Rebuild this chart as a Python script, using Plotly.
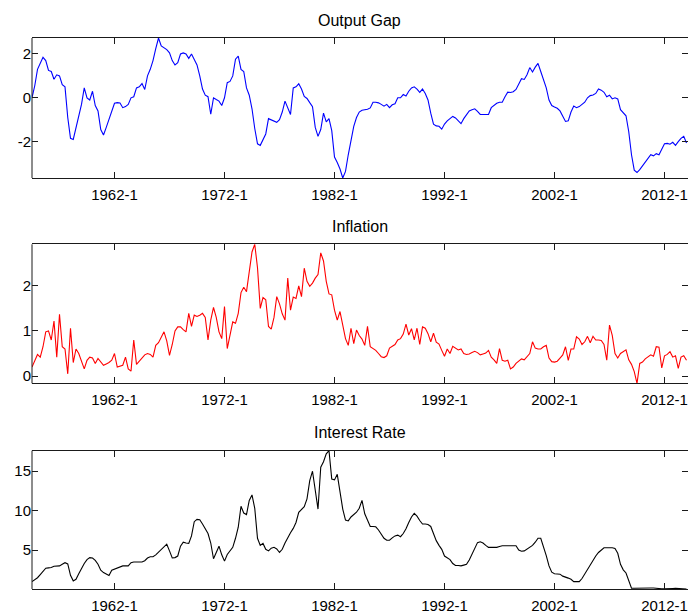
import plotly.graph_objects as go

# Quarterly sample: 1954Q3 .. 2014Q1
START_YEAR, START_Q, N_QUARTERS = 1954, 3, 239
tick_years = [1962, 1972, 1982, 1992, 2002, 2012]
tick_labels = [f"{y}-1" for y in tick_years]

output_gap = [
    0.0, 0.55, 1.3, 1.6, 1.85, 1.7, 1.25, 1.2, 0.85, 1.05,
    1.0, 0.6, 0.5, -0.9, -1.85, -1.9, -1.35, -0.75, -0.3, 0.45,
    0.0, -0.1, 0.3, -0.35, -0.6, -1.45, -1.7, -1.35, -1.0, -0.55,
    -0.25, -0.22, -0.24, -0.45, -0.4, -0.3, 0.0, 0.05, 0.45, 0.5,
    0.65, 0.38, 1.0, 1.3, 1.7, 2.25, 2.73, 2.37, 2.3, 2.2,
    2.05, 1.7, 1.5, 1.6, 2.0, 2.05, 2.0, 1.8, 2.0, 1.78,
    1.5, 1.0, 0.4, 0.12, 0.05, -0.75, 0.0, -0.08, -0.15, -0.35,
    0.0, 0.69, 0.75, 1.0, 1.76, 1.9, 1.3, 1.2, 0.45, 0.12,
    -0.5, -1.4, -2.1, -2.17, -1.9, -1.65, -0.95, -1.0, -1.08, -1.12,
    -1.0, -0.65, -0.15, -0.45, -0.76, 0.45, 0.5, 0.64, 0.4, 0.06,
    -0.03, -0.22, -0.4, -1.35, -1.76, -1.45, -0.7, -1.1, -0.95, -1.5,
    -2.7, -2.95, -3.25, -3.66, -3.36, -2.6, -1.95, -1.3, -0.9, -0.65,
    -0.57, -0.55, -0.52, -0.46, -0.2, -0.2, -0.23, -0.3, -0.38, -0.3,
    -0.45, -0.32, -0.27, 0.0, 0.0, 0.15, 0.08, 0.3, 0.45, 0.5,
    0.4, 0.25, 0.4, 0.2, -0.1, -0.7, -1.2, -1.28, -1.3, -1.43,
    -1.2, -1.05, -0.95, -0.85, -0.92, -1.05, -1.18, -0.95, -0.8, -0.6,
    -0.55, -0.5, -0.62, -0.76, -0.76, -0.75, -0.76, -0.45, -0.35, -0.25,
    -0.2, -0.2, 0.05, 0.26, 0.24, 0.28, 0.38, 0.62, 0.87, 0.84,
    1.05, 1.38, 1.18, 1.4, 1.57, 1.2, 0.8, 0.45, -0.1, -0.35,
    -0.42, -0.48, -0.6, -0.85, -1.08, -1.05, -0.65, -0.38, -0.45, -0.4,
    -0.3, -0.2, 0.0, 0.1, 0.13, 0.2, 0.4, 0.35, 0.25, 0.05,
    0.12, -0.05, 0.0, -0.05, -0.54, -0.67, -0.82, -1.55, -2.6, -3.3,
    -3.41, -3.28, -3.1, -2.98, -2.8, -2.6, -2.65, -2.55, -2.6, -2.32,
    -2.1, -2.08, -2.12, -2.03, -2.17, -2.0, -1.85, -1.76, -2.06,
]

inflation = [
    0.2, 0.35, 0.48, 0.42, 0.65, 0.98, 1.0, 0.8, 1.22, 0.42,
    1.37, 0.65, 0.6, 0.05, 1.06, 0.3, 0.6, 0.5, 0.35, 0.16,
    0.35, 0.42, 0.4, 0.28, 0.39, 0.31, 0.24, 0.27, 0.3, 0.35,
    0.5, 0.2, 0.22, 0.24, 0.42, 0.16, 0.11, 0.8, 0.26, 0.33,
    0.42, 0.47, 0.5, 0.48, 0.42, 0.68, 0.74, 0.86, 0.98, 0.78,
    0.46, 0.7, 1.0, 1.09, 1.09, 1.03, 0.98, 1.39, 1.1, 1.35,
    1.32, 1.35, 1.39, 1.3, 0.8, 1.24, 1.52, 1.3, 0.98, 0.83,
    1.54, 0.61, 0.9, 1.2, 1.17, 1.39, 1.85, 1.97, 1.87, 2.35,
    2.75, 2.92, 2.4, 1.5, 1.74, 1.69, 1.1, 1.04, 1.3, 1.76,
    1.6, 1.38, 1.24, 2.17, 1.46, 1.75, 1.72, 2.0, 1.76, 2.39,
    2.1, 1.99, 2.06, 2.17, 2.25, 2.73, 2.55, 2.1, 1.82, 1.8,
    1.46, 1.24, 1.43, 1.13, 0.83, 0.68, 1.06, 0.72, 1.02, 0.9,
    0.82, 0.68, 1.1, 0.65, 0.61, 0.57, 0.5, 0.43, 0.41, 0.45,
    0.62, 0.67, 0.7, 0.8, 0.83, 0.93, 1.15, 0.91, 1.05, 0.8,
    1.06, 0.7, 1.09, 1.06, 0.94, 0.76, 0.95, 0.75, 0.71, 0.57,
    0.44, 0.6, 0.5, 0.66, 0.62, 0.58, 0.6, 0.5, 0.48, 0.49,
    0.52, 0.55, 0.52, 0.47, 0.49, 0.51, 0.57, 0.42, 0.36, 0.28,
    0.61, 0.35, 0.33, 0.35, 0.16, 0.2, 0.28, 0.33, 0.38, 0.36,
    0.42, 0.5, 0.76, 0.62, 0.6, 0.6, 0.65, 0.68, 0.4, 0.32,
    0.31, 0.33, 0.4, 0.47, 0.65, 0.35, 0.6, 0.6, 0.87, 0.82,
    0.7, 0.76, 0.88, 0.74, 0.88, 0.8, 0.8, 0.79, 0.7, 0.35,
    1.13, 0.9, 0.5, 0.4, 0.5, 0.54, 0.58, 0.36, 0.26, 0.1,
    -0.16, 0.28, 0.31, 0.38, 0.43, 0.47, 0.44, 0.65, 0.64, 0.18,
    0.45, 0.48, 0.54, 0.42, 0.45, 0.17, 0.42, 0.45, 0.35,
]

interest_rate = [
    1.0, 1.2, 1.5, 1.9, 2.35, 2.7, 2.75, 2.8, 2.95, 3.0,
    3.0, 3.2, 3.4, 3.25, 1.8, 1.1, 1.3, 2.0, 2.7, 3.3,
    3.8, 4.05, 4.0, 3.7, 3.2, 2.45, 2.15, 2.0, 1.78, 2.45,
    2.6, 2.72, 2.85, 3.0, 3.0, 3.0, 3.4, 3.5, 3.5, 3.5,
    3.5, 3.65, 4.0, 4.15, 4.15, 4.4, 4.75, 5.1, 5.45, 5.75,
    4.9, 4.0, 4.05, 4.25, 5.5, 6.0, 5.9, 5.85, 6.8, 8.6,
    8.9, 8.85, 8.3, 7.7, 7.1, 5.9, 3.9, 4.7, 5.5, 4.4,
    3.6, 4.45, 4.9, 5.35, 6.5, 7.9, 10.55, 9.7, 9.5, 11.3,
    12.0, 10.3, 6.5, 5.6, 5.85, 5.1, 4.9, 5.25, 5.35, 5.15,
    4.7, 5.1, 5.9, 6.6, 7.2, 7.75, 8.5, 9.8, 10.2, 10.5,
    11.5, 13.8, 15.0, 12.7, 10.2, 15.5, 16.2, 17.2, 17.6, 14.0,
    13.9, 14.6, 12.5, 10.2, 8.8, 8.7, 9.2, 9.5, 9.8, 10.3,
    11.3, 9.6, 8.75, 8.0, 8.0, 7.95, 7.55, 7.0, 6.5, 6.25,
    6.25, 6.55, 6.8, 6.9, 6.7, 7.1, 7.7, 8.5, 9.2, 9.65,
    9.3, 8.75, 8.3, 8.3, 8.25, 8.0, 7.0, 6.2, 5.6, 5.1,
    4.25, 4.0, 3.8, 3.3, 3.05, 3.05, 3.0, 3.1, 3.2, 3.75,
    4.5, 5.3, 5.95, 6.05, 5.9, 5.6, 5.35, 5.35, 5.35, 5.35,
    5.45, 5.55, 5.55, 5.55, 5.55, 5.55, 5.55, 5.0, 4.85, 4.9,
    5.1, 5.3, 5.6, 6.0, 6.5, 6.5, 5.5, 4.3, 3.0, 2.2,
    2.0, 1.95, 1.95, 1.7, 1.6, 1.45, 1.3, 1.0, 1.0, 1.0,
    1.4, 2.0, 2.55, 3.2, 3.8, 4.25, 4.7, 5.0, 5.3, 5.3,
    5.3, 5.3, 5.2, 4.6, 3.2, 2.5, 2.1, 1.0, 0.18, 0.16,
    0.15, 0.18, 0.16, 0.12, 0.13, 0.19, 0.19, 0.19, 0.15, 0.1,
    0.09, 0.08, 0.09, 0.14, 0.16, 0.16, 0.12, 0.09, 0.07,
]

# time axis in fractional years, one point per quarter
t0 = START_YEAR + (START_Q - 1) / 4
quarters = [t0 + k / 4 for k in range(N_QUARTERS)]

panels = [
    ("Output Gap", output_gap, "#0000ff", [-2, 0, 2]),
    ("Inflation", inflation, "#ff0000", [0, 1, 2]),
    ("Interest Rate", interest_rate, "#000000", [5, 10, 15]),
]

W, H = 688, 613
# axes boxes in pixels: (top, bottom); the right edge runs to the page edge
boxes = [(38, 178), (244.3, 383.3), (450.7, 589)]
x_left = 32
PX_PER_YEAR = 11.0
x_end = t0 + (W - x_left) / PX_PER_YEAR

FONT = "Liberation Sans, Arial, Helvetica, sans-serif"
AX_COLOR = "#1a1a1a"

fig = go.Figure()
annotations = []
shapes = []
for k, (title, values, color, yticks) in enumerate(panels):
    n = k + 1
    xa = "x" if n == 1 else f"x{n}"
    ya = "y" if n == 1 else f"y{n}"
    fig.add_trace(go.Scatter(
        x=quarters, y=values, mode="lines",
        line=dict(color=color, width=1.1),
        xaxis=xa, yaxis=ya, showlegend=False, hoverinfo="skip",
    ))
    top, bottom = boxes[k]
    ydom = [1 - bottom / H, 1 - top / H]
    common = dict(
        ticks="inside", ticklen=6, tickwidth=1, tickcolor=AX_COLOR,
        showgrid=False, zeroline=False, mirror="ticks",
        tickfont=dict(family=FONT, size=15, color="#000000"),
        ticklabeloverflow="allow",
    )
    fig.update_layout(**{
        ("xaxis" if n == 1 else f"xaxis{n}"): dict(
            common, domain=[x_left / W, 1.0], anchor=ya,
            showline=True, linecolor=AX_COLOR, linewidth=1,
            range=[quarters[0], x_end], ticklabelstandoff=3,
            tickmode="array", tickvals=tick_years, ticktext=tick_labels,
        ),
        ("yaxis" if n == 1 else f"yaxis{n}"): dict(
            common, domain=ydom, anchor=xa, showline=False,
            range=[min(values), max(values)],
            tickmode="array", tickvals=yticks,
            ticktext=[str(v) for v in yticks],
        ),
    })
    # left edge of the axes box
    shapes.append(dict(
        type="line", xref="paper", yref="paper",
        x0=x_left / W, x1=x_left / W, y0=ydom[0], y1=ydom[1],
        line=dict(color=AX_COLOR, width=1),
    ))
    annotations.append(dict(
        text=title, x=(x_left + 687) / 2 / W, y=1 - (top - 18) / H,
        xref="paper", yref="paper", xanchor="center", yanchor="middle",
        showarrow=False, font=dict(family=FONT, size=16, color="#000000"),
    ))

fig.update_layout(
    width=W, height=H,
    margin=dict(l=0, r=0, t=0, b=0, autoexpand=False),
    paper_bgcolor="#ffffff", plot_bgcolor="#ffffff",
    annotations=annotations, shapes=shapes,
)

fig.write_html("out.html")
